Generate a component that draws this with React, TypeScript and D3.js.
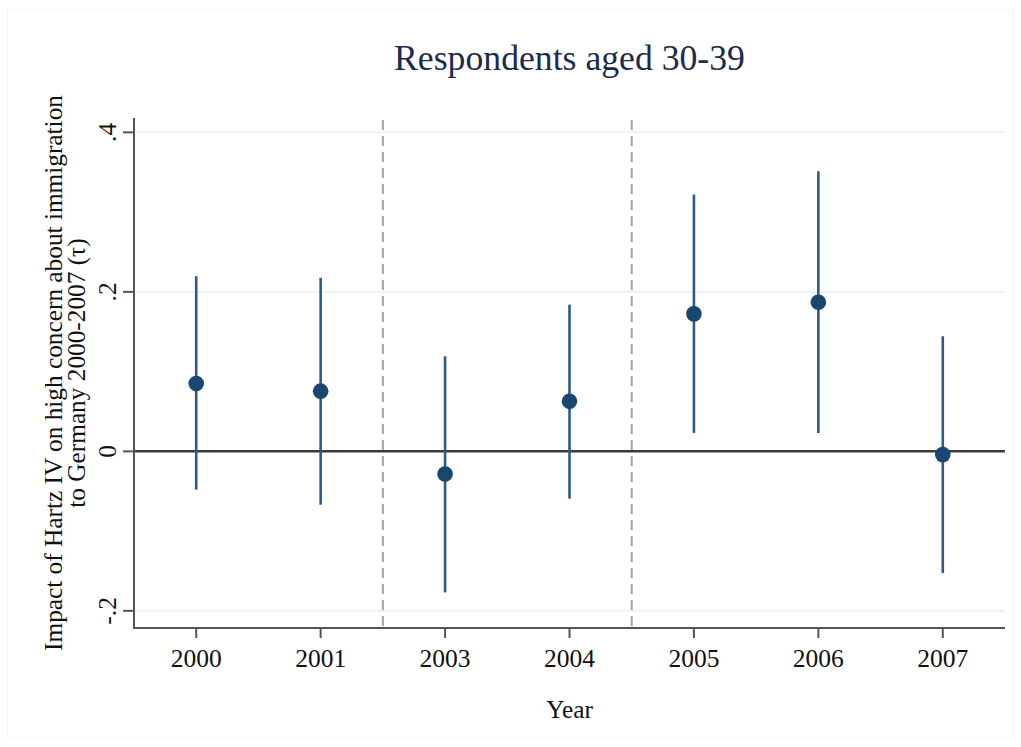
import { useEffect, useRef } from 'react'
import * as d3 from 'd3'

const YEARS = ['2000', '2001', '2003', '2004', '2005', '2006', '2007']
const ESTIMATE = [0.085, 0.0755, -0.0285, 0.0627, 0.1724, 0.187, -0.0041]
const CI_LOW = [-0.048, -0.0669, -0.1769, -0.0593, 0.0231, 0.0231, -0.1526]
const CI_HIGH = [0.2196, 0.2176, 0.1192, 0.184, 0.322, 0.3513, 0.1443]
const Y_TICKS = [-0.2, 0, 0.2, 0.4]
const Y_TICK_LABELS = ['-.2', '0', '.2', '.4']
// reform breaks drawn as dashed lines between these pairs of years
const BREAKS = [['2001', '2003'], ['2004', '2005']]

const W = 1021, H = 747
const FONT = '"Liberation Serif", "Times New Roman", serif'

export default function App() {
  const svgRef = useRef<SVGSVGElement>(null)

  useEffect(() => {
    document.body.style.margin = '0'
    const svg = d3.select(svgRef.current)
    svg.selectAll('*').remove()

    const left = 134, right = 1005, top = 118, bottom = 628

    const x = d3.scalePoint().domain(YEARS).range([left, right]).padding(0.5)
    const y = d3.scaleLinear().domain([-0.2215, 0.418]).range([bottom, top])

    // faint outer frame
    svg.append('rect').attr('x', 7.5).attr('y', 9.5).attr('width', W - 15).attr('height', H - 19)
      .attr('fill', 'none').attr('stroke', '#f5f5f5').attr('stroke-width', 1)

    // gridlines
    svg.append('g').selectAll('line')
      .data(Y_TICKS.filter(t => t !== 0))
      .join('line')
      .attr('x1', left).attr('x2', right)
      .attr('y1', d => y(d)).attr('y2', d => y(d))
      .attr('stroke', '#eaf2f3').attr('stroke-width', 2)

    // dashed break lines
    svg.append('g').selectAll('line')
      .data(BREAKS)
      .join('line')
      .attr('x1', d => ((x(d[0]) as number) + (x(d[1]) as number)) / 2)
      .attr('x2', d => ((x(d[0]) as number) + (x(d[1]) as number)) / 2)
      .attr('y1', top + 2).attr('y2', bottom)
      .attr('stroke', '#a3a3a3').attr('stroke-width', 2).attr('stroke-dasharray', '10,6')

    // zero line
    svg.append('line')
      .attr('x1', left).attr('x2', right).attr('y1', y(0)).attr('y2', y(0))
      .attr('stroke', '#3a3a3a').attr('stroke-width', 2.5)

    // confidence intervals
    svg.append('g').selectAll('line')
      .data(YEARS)
      .join('line')
      .attr('x1', d => x(d) as number).attr('x2', d => x(d) as number)
      .attr('y1', (_, i) => y(CI_LOW[i])).attr('y2', (_, i) => y(CI_HIGH[i]))
      .attr('stroke', '#2e5b86').attr('stroke-width', 2.6)

    // point estimates
    svg.append('g').selectAll('circle')
      .data(YEARS)
      .join('circle')
      .attr('cx', d => x(d) as number).attr('cy', (_, i) => y(ESTIMATE[i]))
      .attr('r', 7.8).attr('fill', '#1a476f')

    // axes
    const axisColor = '#555'
    svg.append('line').attr('x1', left).attr('x2', left).attr('y1', top).attr('y2', bottom + 1)
      .attr('stroke', axisColor).attr('stroke-width', 2)
    svg.append('line').attr('x1', left - 1).attr('x2', right).attr('y1', bottom).attr('y2', bottom)
      .attr('stroke', axisColor).attr('stroke-width', 2)

    const yAx = svg.append('g')
    yAx.selectAll('line').data(Y_TICKS).join('line')
      .attr('x1', left - 11).attr('x2', left).attr('y1', d => y(d)).attr('y2', d => y(d))
      .attr('stroke', axisColor).attr('stroke-width', 2)
    yAx.selectAll('text').data(Y_TICKS).join('text')
      .attr('transform', d => `translate(116,${y(d)}) rotate(-90)`)
      .attr('text-anchor', 'middle').attr('font-family', FONT).attr('font-size', 25.5).attr('fill', '#111')
      .text((_, i) => Y_TICK_LABELS[i])

    const xAx = svg.append('g')
    xAx.selectAll('line').data(YEARS).join('line')
      .attr('x1', d => x(d) as number).attr('x2', d => x(d) as number)
      .attr('y1', bottom).attr('y2', bottom + 10)
      .attr('stroke', axisColor).attr('stroke-width', 2)
    xAx.selectAll('text').data(YEARS).join('text')
      .attr('x', d => x(d) as number).attr('y', 667)
      .attr('text-anchor', 'middle').attr('font-family', FONT).attr('font-size', 25.5).attr('fill', '#111')
      .text(d => d)

    // titles
    svg.append('text').attr('x', (left + right) / 2).attr('y', 70)
      .attr('text-anchor', 'middle').attr('font-family', FONT).attr('font-size', 35.7).attr('fill', '#1c2b4b')
      .text('Respondents aged 30-39')

    svg.append('text').attr('x', (left + right) / 2).attr('y', 718)
      .attr('text-anchor', 'middle').attr('font-family', FONT).attr('font-size', 25.3).attr('fill', '#111')
      .text('Year')

    const yc = (top + bottom) / 2
    svg.append('text').attr('transform', `translate(62,${yc}) rotate(-90)`)
      .attr('text-anchor', 'middle').attr('font-family', FONT).attr('font-size', 25.3).attr('fill', '#111')
      .text('Impact of Hartz IV on high concern about immigration')
    svg.append('text').attr('transform', `translate(85,${yc}) rotate(-90)`)
      .attr('text-anchor', 'middle').attr('font-family', FONT).attr('font-size', 25.3).attr('fill', '#111')
      .text('to Germany 2000-2007 (τ)')
  }, [])

  return (
    <svg ref={svgRef} width={W} height={H} viewBox={`0 0 ${W} ${H}`}
      style={{ display: 'block', background: '#fff' }} />
  )
}
